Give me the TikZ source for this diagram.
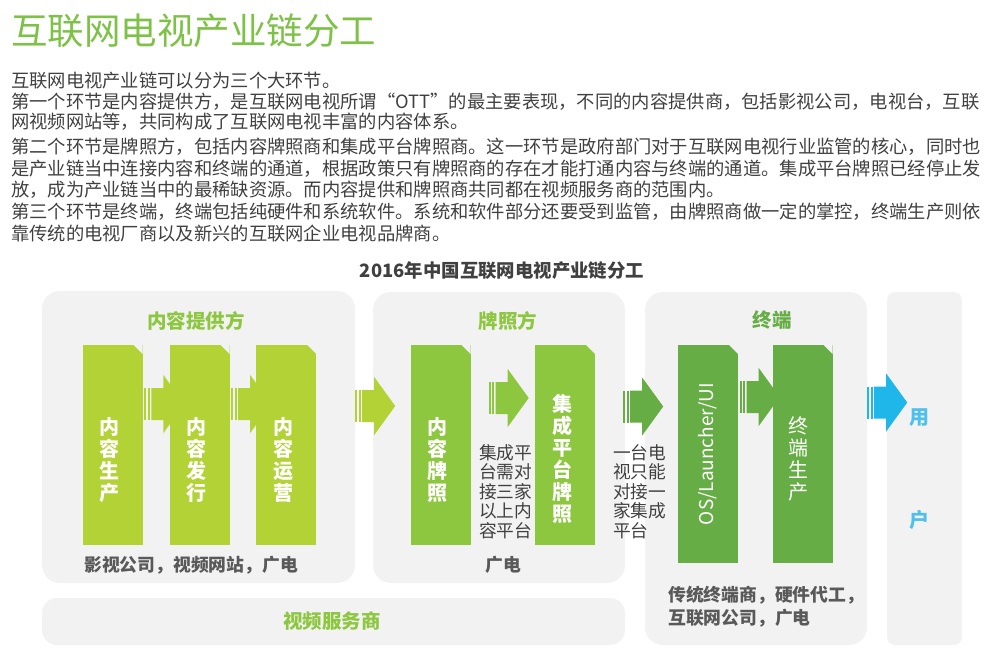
\documentclass[tikz,border=0pt]{standalone}
\usepackage{fontspec}
\setmainfont{Noto Sans CJK SC}
\usepackage{tikz}
\definecolor{titlegreen}{HTML}{7DC246}
\definecolor{lime}{HTML}{B2D235}
\definecolor{leaf}{HTML}{8DC63F}
\definecolor{grass}{HTML}{66AD45}
\definecolor{sky}{HTML}{1FB6EA}
\definecolor{skytext}{HTML}{4DC0EE}
\definecolor{panelgray}{HTML}{F2F2F2}
\definecolor{textgray}{HTML}{404040}
\definecolor{labelgray}{HTML}{595959}

\begin{document}
\begin{tikzpicture}[x=1pt,y=-1pt,
    panel/.style={fill=panelgray, rounded corners=#1, inner sep=0pt},
    panel/.default=18pt,
    colbox/.style={fill=#1, minimum width=60pt, minimum height=200pt, inner sep=0pt,
      path picture={\fill[panelgray] (path picture bounding box.north east)
        -- ++(-9pt,0pt) -- ++(9pt,-9pt) -- cycle;}},
    boxtext/.style={text=white, align=center, inner sep=0pt,
      font=\fontsize{20}{22}\selectfont\bfseries},
    header/.style={inner sep=0pt, font=\fontsize{19.5}{20}\selectfont\bfseries},
    who/.style={inner sep=0pt, text=labelgray, font=\fontsize{17.8}{23}\selectfont\bfseries},
    note/.style={inner sep=0pt, text=textgray, align=left, anchor=west,
      font=\fontsize{17.7}{19.5}\selectfont},
    bodytext/.style={inner sep=0pt, text=textgray, anchor=base west,
      font=\fontsize{18.3}{21.8}\selectfont},
    pics/flow/.style={code={
      \fill[#1] (0,-16) rectangle (2,16);
      \fill[#1] (3.5,-16) rectangle (5.5,16);
      \fill[#1] (7,-16) -- (19,-16) -- (19,-29) -- (40,0) -- (19,29) -- (19,16) -- (7,16) -- cycle;
    }}]
    \useasboundingbox (0,0) rectangle (993,650);

    % title and text
    \node[anchor=base west, inner sep=0pt, text=titlegreen,
      font=\fontsize{36.5}{36.5}\selectfont] (title) at (11,45) {互联网电视产业链分工};
    \foreach \y/\ln [count=\i] in {
      80.5/互联网电视产业链可以分为三个大环节。,
      101.5/第一个环节是内容提供方，是互联网电视所谓“OTT”的最主要表现，不同的内容提供商，包括影视公司，电视台，互联,
      122/网视频网站等，共同构成了互联网电视丰富的内容体系。,
      146.5/第二个环节是牌照方，包括内容牌照商和集成平台牌照商。这一环节是政府部门对于互联网电视行业监管的核心，同时也,
      168.5/是产业链当中连接内容和终端的通道，根据政策只有牌照商的存在才能打通内容与终端的通道。集成平台牌照已经停止发,
      190/放，成为产业链当中的最稀缺资源。而内容提供和牌照商共同都在视频服务商的范围内。,
      211.5/第三个环节是终端，终端包括纯硬件和系统软件。系统和软件部分还要受到监管，由牌照商做一定的掌控，终端生产则依,
      233.3/靠传统的电视厂商以及新兴的互联网企业电视品牌商。}
      \node[bodytext] (line\i) at (11,\y+6.7) {\ln};
    \node[inner sep=0pt, text=textgray, font=\fontsize{18.4}{18.4}\selectfont\bfseries]
      (subtitle) at (502,270.5) {2016年中国互联网电视产业链分工};

    % panels
    \node[panel, minimum width=313pt, minimum height=292pt] (pcontent) at (198.5,437) {};
    \node[panel, minimum width=252pt, minimum height=291pt] (plicense) at (499,437.5) {};
    \node[panel, minimum width=222pt, minimum height=353pt] (pterm) at (756,468.5) {};
    \node[panel=8pt, minimum width=75pt, minimum height=353pt] (puser) at (924.5,468.5) {};
    \node[panel=15pt, minimum width=583pt, minimum height=47pt] (pservice) at (333.5,621.5) {};

    \node[header, text=leaf] (hcontent) at (196,321) {内容提供方};
    \node[header, text=leaf] (hlicense) at (508,321) {牌照方};
    \node[header, text=grass] (hterm) at (772,320) {终端};
    \node[header, text=leaf] (hservice) at (332,621) {视频服务商};

    % boxes
    \node[colbox=lime] (prod) at (112.7,445) {};
    \node[colbox=lime] (dist) at (199.5,445) {};
    \node[colbox=lime] (oper) at (286.3,445) {};
    \node[colbox=leaf] (lic) at (440.5,445) {};
    \node[colbox=leaf] (integ) at (565,445) {};
    \node[colbox=grass, minimum height=218pt] (os) at (708,454) {};
    \node[colbox=grass, minimum height=218pt] (mfg) at (802.5,454) {};

    % arrows
    \pic at ([xshift=1.5pt,yshift=41pt]prod.east) {flow=lime};
    \pic at ([xshift=1.5pt,yshift=41pt]dist.east) {flow=lime};
    \pic at ([yshift=31pt]pcontent.east) {flow=lime};
    \pic at ([xshift=18pt,yshift=47pt]lic.east) {flow=leaf};
    \pic at ([xshift=-2pt,yshift=31pt]plicense.east) {flow=grass};
    \pic at ([xshift=1.5pt,yshift=57pt]os.east) {flow=grass};
    \pic at ([yshift=66pt]pterm.east) {flow=sky};

    % box texts
    \node[boxtext] (tprod) at ([xshift=-3pt,yshift=-15pt]prod.center) {内\\容\\生\\产};
    \node[boxtext] (tdist) at ([xshift=-3pt,yshift=-15pt]dist.center) {内\\容\\发\\行};
    \node[boxtext] (toper) at ([xshift=-3pt,yshift=-15pt]oper.center) {内\\容\\运\\营};
    \node[boxtext] (tlic) at ([xshift=-3pt,yshift=-15pt]lic.center) {内\\容\\牌\\照};
    \node[boxtext] (tinteg) at ([xshift=-3pt,yshift=-14pt]integ.center) {集\\成\\平\\台\\牌\\照};
    \node[boxtext, rotate=90, font=\fontsize{19}{19}\selectfont] (tos) at (os.center) {OS/Launcher/UI};
    \node[boxtext, font=\fontsize{20}{22}\selectfont] (tmfg) at ([xshift=-4pt,yshift=-5pt]mfg.center) {终\\端\\生\\产};

    % notes
    \node[note] (nlic) at (479,491.5) {集成平\\台需对\\接三家\\以上内\\容平台};
    \node[note] (nterm) at (613,491.5) {一台电\\视只能\\对接一\\家集成\\平台};

    \node[who] (wcontent) at (191,565) {影视公司，视频网站，广电};
    \node[who] (wlicense) at (503,565) {广电};
    \node[who, align=left, anchor=west] (wterm) at (668,606.5) {传统终端商，硬件代工，\\互联网公司，广电};

    \node[header, text=skytext, font=\fontsize{20}{20}\selectfont\bfseries] (uone) at (919,418) {用};
    \node[header, text=skytext, font=\fontsize{20}{20}\selectfont\bfseries] (utwo) at (919,520) {户};
\end{tikzpicture}
\end{document}
